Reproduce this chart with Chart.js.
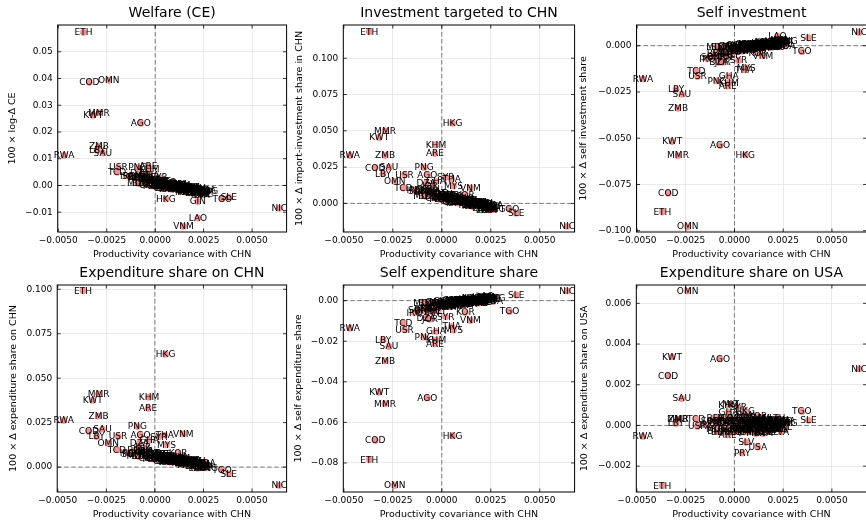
<!DOCTYPE html>
<html><head><meta charset="utf-8">
<script src="https://cdn.jsdelivr.net/npm/chart.js@4.4.1/dist/chart.umd.min.js"></script>
<style>
html,body{margin:0;padding:0;background:#fff;overflow:hidden;width:866px;height:520px;position:relative;}
canvas{position:absolute;}
</style></head><body>
<canvas id="c0"></canvas><canvas id="c1"></canvas><canvas id="c2"></canvas>
<canvas id="c3"></canvas><canvas id="c4"></canvas><canvas id="c5"></canvas>
<script>
const countries = ['ETH','COD','OMN','MMR','KWT','AGO','ZMB','SAU','RWA','USR','TCD','LBY','PNG','ARE','KHM','HKG','GIN','LAO','VNM','NIC','SLE','TGO','DZA','THA','GHA','PRY','USA','MEX','SLV','SOM','JOR','SYR','MYS','MWI','KOR','MLT','IRQ','IRN','BHR',
'ALB','ARG','ARM','AUS','AUT','AZE','BEL','BEN','BGD','BGR','BLR','BOL','CAN','CHE','CHL','CIV','CMR','COL','CRI','CZE','DEU','DNK','DOM','ECU','EGY','ESP','FIN','FRA','GBR','GRC','GTM','HND','HUN','IDN','IND','IRL','ISR','ITA','JPN','KEN','LKA','MAR','MNG','NGA','NLD','NOR','PAK','PER','PHL','POL','PRT','ROU','RUS','SEN','SGP','SWE','TUN','TUR','TZA','UGA',
'BFA','BDI','BWA','CAF','COG','CYP','EST','GAB','GEO','GMB','HRV','ISL','JAM','KAZ','KGZ','LBN','LTU','LVA','MDA','MDG','MLI','MOZ','MRT','MUS','NAM','NER','NPL','NZL','PAN','QAT'];

const covX = [-0.0037,-0.0034,-0.0024,-0.0029,-0.0032,-0.00074,-0.0029,-0.0027,-0.0047,-0.0019,-0.00196,-0.0030,-0.0009,-0.00035,-0.0003,0.00055,0.0022,0.0022,0.00146,0.0064,0.0038,0.00346,-0.0008,0.0005,-0.0003,0.0004,0.0012,0.0011,0.0006,-0.0012,-0.0006,0.0002,0.0006,0.0025,0.0012,-0.0002,-0.0014,-0.0005,-0.0009,
0.0001,0.0003,0.0008,0.0004,0.0015,0.0002,0.0017,0.0019,0.0011,0.0013,
0.0009,0.0002,0.0010,0.0021,0.0006,0.0016,0.0014,0.0007,0.0018,0.0020,
0.0023,0.0019,0.0009,0.0003,0.0000,0.0016,0.0024,0.0018,0.0013,0.0011,
0.0015,0.0017,0.0021,0.0008,0.0010,0.0026,0.0014,0.0020,0.0022,0.0012,
0.0009,0.0005,0.0027,-0.0003,0.0019,0.0004,0.0007,0.0011,0.0013,0.0017,
0.0015,0.0012,0.0001,0.0023,0.0025,0.0021,0.0014,0.0010,0.0024,0.0018,
-0.0010,-0.0008,-0.0006,-0.0004,-0.0002,0.0000,0.0002,0.0004,0.0006,0.0008,
0.0010,0.0012,0.0014,0.0016,0.0018,0.0020,0.0022,0.0024,0.0026,-0.0009,
-0.0005,-0.0001,0.0003,0.0007,0.0011,0.0015,0.0019,0.0023,0.0001,0.0005];

const welfareCE = [0.0572,0.0386,0.0393,0.0272,0.0262,0.0233,0.0146,0.0121,0.0112,0.0067,0.0049,0.0132,0.0067,0.0071,0.0060,-0.0050,-0.0060,-0.0122,-0.0153,-0.0085,-0.0044,-0.0050,0.0045,0.0010,0.0040,-0.0010,-0.0012,-0.0008,0.0000,0.0034,0.0040,0.0030,0.0010,-0.0025,-0.0010,0.0020,0.0035,0.0025,0.0030,
0.0010,0.00005,0.00042,-0.00044,-0.00102,-0.00003,-0.00101,-0.0019,-0.00006,-0.00096,
-0.00007,0.00018,0.00015,-0.00274,0.0002,-0.00192,-0.0006,-0.00029,-0.001,-0.0019,
-0.00196,-0.00212,0.00029,-0.00031,0.00101,-0.00192,-0.00195,-0.00177,-0.00033,-0.00069,
-0.00088,-0.00185,-0.00134,-0.00098,-0.00034,-0.00327,-0.0006,-0.00204,-0.00154,-0.00082,
-0.00007,-0.00023,-0.00215,0.00051,-0.00156,-0.0003,0.00035,-0.00083,-0.00033,-0.0015,
-0.00088,-0.00117,0.00137,-0.003,-0.00237,-0.0026,-0.0006,-0.00069,-0.00181,-0.00163,
0.00325,0.00078,0.00271,0.00024,0.00217,-0.0003,0.00163,-0.00084,0.00109,-0.00138,
0.00055,-0.00192,0.00001,-0.00246,-0.00053,-0.003,-0.00107,-0.00354,-0.00161,0.00092,
0.00258,-0.00017,0.0015,-0.00125,0.00042,-0.00233,-0.00067,-0.00341,0.00177,-0.00098];

const invTargetCHN = [0.1183,0.0245,0.0151,0.0500,0.0454,0.0197,0.0330,0.0250,0.0330,0.0197,0.0106,0.0204,0.0248,0.0344,0.0404,0.0553,-0.0020,-0.0044,0.0106,-0.0158,-0.0067,-0.0039,0.0140,0.0170,0.0150,0.0030,0.0010,0.0020,0.0040,0.0083,0.0120,0.0180,0.0120,-0.0020,0.0060,0.0070,0.0090,0.0095,0.0080,
0.0030,0.0040,0.0012,0.0042,-0.0001,0.0050,-0.0004,-0.0004,0.0007,0.0019,
0.0007,0.0043,0.0006,-0.0008,0.0025,0.0009,0.0004,0.0031,-0.0013,-0.0001,
-0.0034,-0.0007,0.0009,0.0045,0.0043,0.0009,-0.0025,-0.0001,0.0001,0.0025,
-0.0011,-0.0001,-0.0026,0.0030,0.0014,-0.0020,0.0004,-0.0007,-0.0025,0.0022,
0.0007,0.0034,-0.0043,0.0062,-0.0013,0.0044,0.0025,0.0019,0.0001,0.0008,
-0.0011,0.0014,0.0033,-0.0013,-0.0030,-0.0005,0.0004,0.0022,-0.0031,0.0005,
0.0093,0.0049,0.0081,0.0038,0.0070,0.0026,0.0058,0.0014,0.0047,0.0003,
0.0035,-0.0009,0.0023,-0.0020,0.0012,-0.0032,0.0000,-0.0044,-0.0011,0.0052,
0.0079,0.0029,0.0055,0.0006,0.0032,-0.0018,0.0009,-0.0041,0.0061,0.0012];

const selfInvestment = [-0.0899,-0.0797,-0.0978,-0.0594,-0.0518,-0.0540,-0.0338,-0.0263,-0.0180,-0.0167,-0.0135,-0.0236,-0.0190,-0.0218,-0.0200,-0.0590,0.0008,0.0052,-0.0054,0.0072,0.0043,-0.0032,-0.0090,-0.0131,-0.0164,-0.0030,-0.0005,-0.0012,-0.0020,-0.0063,-0.0090,-0.0080,-0.0120,0.0022,-0.0040,-0.0050,-0.0070,-0.0060,-0.0060,
-0.00069,-0.00136,0.00032,-0.00104,0.00073,-0.00177,0.00146,-0.00032,0.00007,-0.00081,
0.00024,-0.00147,0.00055,0.00092,-0.00031,-0.00016,0.00111,-0.0017,0.00087,0.0,
0.00185,0.00049,0.00044,-0.00116,-0.001,-0.00016,0.00226,-0.00043,0.0003,-0.00104,
0.00093,0.00026,0.00182,-0.00058,0.00015,0.00099,0.00111,-0.0002,0.00133,-0.00092,
0.00024,-0.00113,0.0025,-0.00185,0.00119,-0.00154,0.00031,-0.00124,0.0003,-0.00035,
0.00093,-0.00032,-0.00049,0.00115,0.00188,0.00042,0.00111,-0.00135,0.00156,-0.00023,
-0.00425,-0.00082,-0.00379,-0.00036,-0.00333,0.0001,-0.00287,0.00056,-0.00241,0.00102,
-0.00195,0.00148,-0.00149,0.00194,-0.00103,0.0024,-0.00057,0.00286,-0.00011,-0.00094,
-0.00368,-0.00002,-0.00276,0.00091,-0.00184,0.00183,-0.00092,0.00275,-0.00299,0.00068];

const expShareCHN = [0.0991,0.0200,0.0135,0.0412,0.0375,0.0178,0.0287,0.0213,0.0262,0.0172,0.0097,0.0172,0.0228,0.0331,0.0393,0.0635,0.0010,-0.0006,0.0187,-0.0103,-0.0037,-0.0015,0.0135,0.0180,0.0150,0.0050,0.0030,0.0035,0.0050,0.0075,0.0110,0.0170,0.0125,0.0004,0.0079,0.0080,0.0080,0.0090,0.0075,
0.0053,0.0064,0.0034,0.0055,0.0022,0.0063,0.0024,0.0031,0.0038,0.0039,
0.0037,0.0066,0.0030,0.0021,0.0040,0.0035,0.0030,0.0055,0.0024,0.0025,
0.0009,0.0032,0.0032,0.0057,0.0052,0.0035,0.0010,0.0033,0.0034,0.0043,
0.0025,0.0036,0.0008,0.0047,0.0032,0.0015,0.0030,0.0029,0.0016,0.0041,
0.0037,0.0060,-0.0004,0.0069,0.0014,0.0059,0.0044,0.0047,0.0034,0.0031,
0.0025,0.0046,0.0048,0.0017,0.0002,0.0025,0.0030,0.0049,0.0012,0.0029,
0.0096,0.0060,0.0088,0.0052,0.0080,0.0044,0.0072,0.0036,0.0064,0.0028,
0.0056,0.0020,0.0048,0.0012,0.0040,0.0004,0.0032,-0.0004,0.0024,0.0062,
0.0086,0.0046,0.0070,0.0030,0.0054,0.0014,0.0038,-0.0002,0.0074,0.0034];

const selfExpShare = [-0.0784,-0.0689,-0.0911,-0.0508,-0.0451,-0.0480,-0.0297,-0.0226,-0.0136,-0.0144,-0.0111,-0.0193,-0.0180,-0.0213,-0.0195,-0.0666,0.0002,0.0020,-0.0098,0.0048,0.0028,-0.0054,-0.0085,-0.0128,-0.0152,-0.0030,-0.0008,-0.0012,-0.0020,-0.0049,-0.0092,-0.0080,-0.0145,0.0011,-0.0059,-0.0050,-0.0060,-0.0055,-0.0050,
-0.00146,-0.00214,-0.00044,-0.00156,0.00042,-0.0016,0.0003,-0.0003,0.0001,-0.0013,
-0.00066,-0.00224,-0.00024,0.00014,-0.00048,-0.0002,0.0,-0.0015,0.0008,-0.0006,
0.00074,-0.00054,-0.00034,-0.00166,-0.00108,-0.0002,0.001,-0.0004,0.0003,-0.0015,
-0.00006,-0.00074,0.00086,-0.00116,-0.00008,0.0008,0.0,-0.0002,0.0012,-0.0014,
-0.00066,-0.00194,0.00146,-0.00226,0.00082,-0.0014,-0.0007,-0.0011,0.0003,-0.0009,
-0.00006,-0.00124,-0.00114,0.00034,0.00142,0.0003,0.0,-0.0012,0.0014,-0.0008,
-0.0041,-0.0013,-0.0037,-0.0009,-0.0033,-0.0005,-0.0029,-0.0001,-0.0025,0.0003,
-0.0021,0.0007,-0.0017,0.0011,-0.0013,0.0015,-0.0009,0.0019,-0.0005,-0.0014,
-0.0036,-0.0006,-0.0028,0.0002,-0.0020,0.0010,-0.0012,0.0018,-0.0030,0.0000];

const expShareUSA = [-0.00296,0.00244,0.0066,0.0003,0.00337,0.00327,0.00031,0.00132,-0.00054,-0.00005,0.00031,0.0001,0.00016,-0.00046,0.0010,0.0007,0.0001,0.0000,-0.0004,0.00278,0.00025,0.00069,0.0001,0.0005,0.00064,-0.00136,-0.00106,-0.0004,-0.00083,0.0002,0.0001,0.0009,0.0004,0.0001,0.00044,0.00105,0.0000,0.0002,-0.0003,
0.00023,-0.00017,0.00009,-0.00013,0.00017,-0.00001,0.00021,0.00003,0.00013,-0.00007,
0.00019,-0.00021,0.00005,-0.00017,0.00013,-0.00005,0.00017,-0.00001,0.00009,-0.00011,
0.00027,-0.00013,0.00013,-0.00009,0.00021,0.00003,0.00025,0.00007,0.00017,-0.00003,
0.00015,-0.00025,0.00001,-0.00021,0.00009,-0.00009,0.00013,-0.00005,0.00005,-0.00015,
0.00023,-0.00017,0.00009,-0.00013,0.00017,-0.00001,0.00021,0.00003,0.00013,-0.00007,
0.00025,-0.00015,0.00011,-0.00011,0.00019,0.00001,0.00023,0.00005,0.00015,-0.00005,
0.00038,-0.00032,0.00021,-0.00018,0.00038,-0.00032,0.00021,-0.00018,0.00038,-0.00032,
0.00021,-0.00018,0.00038,-0.00032,0.00021,-0.00018,0.00038,-0.00032,0.00021,-0.00018,
0.00038,-0.00032,0.00021,-0.00018,0.00038,-0.00032,0.00021,-0.00018,0.00038,-0.00032];

const panelTitles = ['Welfare (CE)','Investment targeted to CHN','Self investment','Expenditure share on CHN','Self expenditure share','Expenditure share on USA'];
const yTitles = ['100 × log-Δ CE','100 × Δ import-investment share in CHN','100 × Δ self investment share','100 × Δ expenditure share on CHN','100 × Δ self expenditure share','100 × Δ expenditure share on USA'];
const xTitle = 'Productivity covariance with CHN';
const xTicks = [-0.005,-0.0025,0,0.0025,0.005];
const xTickLabels = ['−0.0050','−0.0025','0.0000','0.0025','0.0050'];
const yTicksList = [
  [-0.01,0,0.01,0.02,0.03,0.04,0.05],
  [0,0.025,0.05,0.075,0.1],
  [-0.1,-0.075,-0.05,-0.025,0],
  [0,0.025,0.05,0.075,0.1],
  [-0.08,-0.06,-0.04,-0.02,0],
  [-0.002,0,0.002,0.004,0.006]
];
const yTickLabelsList = [
  ['−0.01','0.00','0.01','0.02','0.03','0.04','0.05'],
  ['0.000','0.025','0.050','0.075','0.100'],
  ['−0.100','−0.075','−0.050','−0.025','0.000'],
  ['0.000','0.025','0.050','0.075','0.100'],
  ['−0.08','−0.06','−0.04','−0.02','0.00'],
  ['−0.002','0.000','0.002','0.004','0.006']
];
const yRanges = [[-0.0174,0.0600],[-0.0197,0.1229],[-0.1007,0.0112],[-0.0140,0.1024],[-0.0943,0.0077],[-0.00327,0.0069]];
const xRange = [-0.00503, 0.00678];
const seriesList = [welfareCE, invTargetCHN, selfInvestment, expShareCHN, selfExpShare, expShareUSA];

// layout (pixels)
const geo = [
  {left:0,   top:0,   w:290, plotL:57.7, plotR:288.5, yT:12.7},
  {left:290, top:0,   w:288, plotL:53.3, plotR:285.0, yT:10.0},
  {left:578, top:0,   w:292, plotL:58.5, plotR:289.5, yT:6.0},
  {left:0,   top:260, w:290, plotL:57.2, plotR:288.5, yT:14.0},
  {left:290, top:260, w:288, plotL:53.3, plotR:285.0, yT:8.3},
  {left:578, top:260, w:292, plotL:58.3, plotR:289.5, yT:7.0}
];
const FONT = '"DejaVu Sans", sans-serif';

const decor = {
  id: 'decor',
  beforeDatasetsDraw(chart) {
    const {ctx, chartArea: a, scales: {x, y}} = chart;
    ctx.save();
    ctx.strokeStyle = '#7c7c7c'; ctx.lineWidth = 1; ctx.setLineDash([4.5, 2.5]);
    const px = x.getPixelForValue(0), py = y.getPixelForValue(0);
    ctx.beginPath();
    ctx.moveTo(px, a.top); ctx.lineTo(px, a.bottom);
    ctx.moveTo(a.left, py); ctx.lineTo(a.right, py);
    ctx.stroke();
    ctx.restore();
  },
  afterDatasetsDraw(chart) {
    const {ctx, chartArea: a, scales: {x, y}} = chart;
    const meta = chart.getDatasetMeta(0);
    ctx.save();
    ctx.font = '9px ' + FONT;
    ctx.fillStyle = '#000';
    ctx.textAlign = 'center';
    ctx.textBaseline = 'middle';
    meta.data.forEach((pt, i) => { ctx.fillText(countries[i], pt.x, pt.y + 0.5); });
    ctx.strokeStyle = '#000'; ctx.lineWidth = 1;
    ctx.strokeRect(a.left, a.top, a.right - a.left, a.bottom - a.top);
    ctx.lineWidth = 0.8;
    ctx.beginPath();
    x.ticks.forEach(t => {
      const p = x.getPixelForValue(t.value);
      ctx.moveTo(p, a.bottom); ctx.lineTo(p, a.bottom - 3.5);
      ctx.moveTo(p, a.top); ctx.lineTo(p, a.top + 3.5);
    });
    y.ticks.forEach(t => {
      const p = y.getPixelForValue(t.value);
      ctx.moveTo(a.left, p); ctx.lineTo(a.left + 3.5, p);
      ctx.moveTo(a.right, p); ctx.lineTo(a.right - 3.5, p);
    });
    ctx.stroke();
    ctx.restore();
  }
};

seriesList.forEach((vals, k) => {
  const g = geo[k];
  const cv = document.getElementById('c' + k);
  cv.width = g.w; cv.height = 260;
  cv.style.left = g.left + 'px'; cv.style.top = g.top + 'px';
  cv.style.width = g.w + 'px'; cv.style.height = '260px';
  new Chart(cv.getContext('2d'), {
    type: 'scatter',
    data: { datasets: [{
      data: covX.map((xv, i) => ({x: xv, y: vals[i]})),
      pointRadius: 3.4, pointHoverRadius: 3.4,
      backgroundColor: 'rgba(240,128,128,0.85)', borderWidth: 0
    }]},
    options: {
      responsive: false, animation: false, devicePixelRatio: 1,
      events: [],
      layout: { padding: { left: 0, right: g.w - g.plotR, top: 0, bottom: 0 } },
      plugins: {
        legend: { display: false }, tooltip: { enabled: false },
        title: { display: true, text: panelTitles[k], fullSize: false, color: '#000',
                 font: { family: FONT, size: 14, weight: 'normal', lineHeight: 1.2 },
                 padding: { top: 5, bottom: 3.2 } }
      },
      scales: {
        x: {
          type: 'linear', min: xRange[0], max: xRange[1], bounds: 'data',
          afterBuildTicks: s => { s.ticks = xTicks.map(v => ({value: v})); },
          afterFit: s => { s.height = 28; },
          ticks: { callback: (v, i) => xTickLabels[i], font: { family: FONT, size: 9 }, color: '#000',
                   padding: 3.3, autoSkip: false, maxRotation: 0, minRotation: 0 },
          grid: { color: '#e4e4e4', lineWidth: 0.8, drawTicks: false },
          border: { display: false },
          title: { display: true, text: xTitle, color: '#000', font: { family: FONT, size: 9.5, lineHeight: 1 },
                   padding: { top: 0, bottom: 0.3 } }
        },
        y: {
          type: 'linear', min: yRanges[k][0], max: yRanges[k][1], bounds: 'data',
          afterBuildTicks: s => { s.ticks = yTicksList[k].map(v => ({value: v})); },
          afterFit: s => { s.width = g.plotL; },
          ticks: { callback: (v, i) => yTickLabelsList[k][i], font: { family: FONT, size: 9 }, color: '#000',
                   padding: 5, autoSkip: false },
          grid: { color: '#e4e4e4', lineWidth: 0.8, drawTicks: false },
          border: { display: false },
          title: { display: true, text: yTitles[k], color: '#000', font: { family: FONT, size: 9.5, lineHeight: 1 },
                   padding: { top: g.yT - 4.75, bottom: 0 } }
        }
      }
    },
    plugins: [decor]
  });
});
</script>
</body></html>
